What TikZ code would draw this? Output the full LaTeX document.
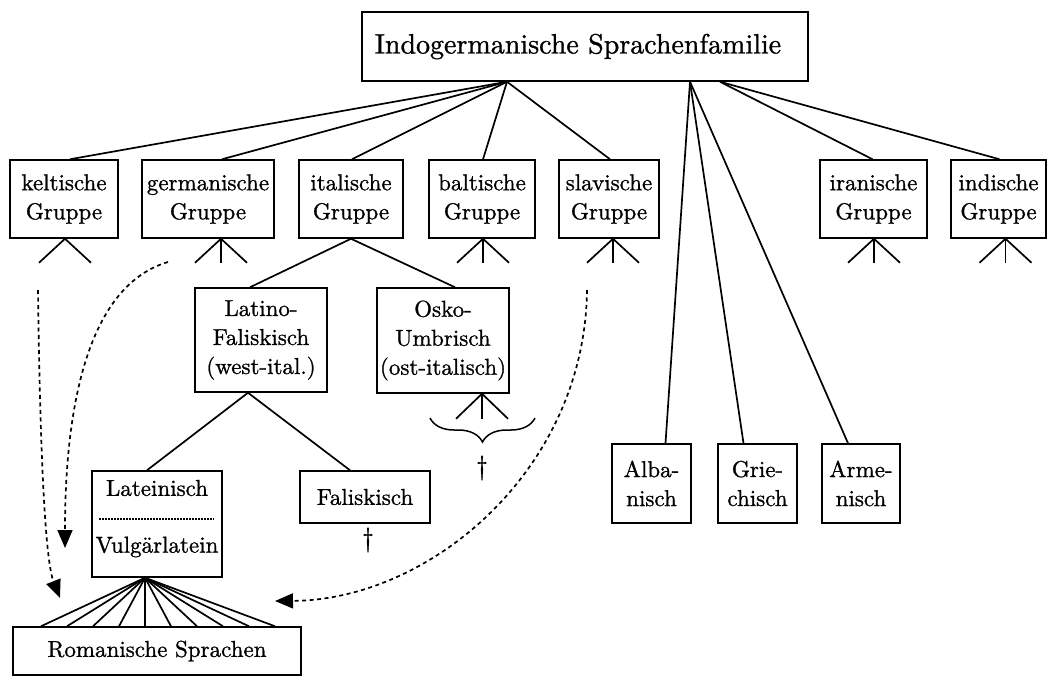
\documentclass[tikz,border=0pt]{standalone}
\usepackage{fontspec}
\setmainfont{lmroman10-regular.otf}[FakeBold=1.0]
\usetikzlibrary{arrows.meta,calc,decorations.pathreplacing}
\newcommand\grpfont{\fontsize{23}{29}\selectfont}
\newcommand\topfont{\fontsize{28}{34}\selectfont}
\begin{document}
\begin{tikzpicture}[x=1pt,y=-1pt,
  box/.style={draw,line width=1.5pt,inner sep=0pt,align=center,font=\grpfont},
  ln/.style={line width=1.7pt},
  dsh/.style={line width=1.7pt,dash pattern=on 4pt off 3.5pt,-{Triangle[length=18pt,width=15pt]}},
  lbl/.style={inner sep=0pt,font=\grpfont}
]
\useasboundingbox (0,0) rectangle (1048,678);

% top
\node[box,minimum width=446pt,minimum height=69pt,font=\topfont] (top) at (585,46.5) {Indogermanische Sprachenfamilie\hspace*{14pt}};

% groups
\node[box,minimum width=108pt,minimum height=78pt] (kelt) at (64,199) {keltische\\Gruppe};
\node[box,minimum width=132pt,minimum height=78pt] (germ) at (208,199) {germanische\\Gruppe};
\node[box,minimum width=104pt,minimum height=78pt] (ital) at (351,199) {italische\\Gruppe};
\node[box,minimum width=106pt,minimum height=78pt] (balt) at (482,199) {baltische\\Gruppe};
\node[box,minimum width=100pt,minimum height=78pt] (slav) at (609,199) {slavische\\Gruppe};
\node[box,minimum width=107pt,minimum height=78pt] (iran) at (873.5,199) {iranische\\Gruppe};
\node[box,minimum width=95pt,minimum height=78pt] (ind) at (998.5,199) {indische\\Gruppe};

% second level
\node[box,minimum width=132pt,minimum height=104pt] (latf) at (261,340) {Latino-\\Faliskisch\\(west-ital.)};
\node[box,minimum width=132pt,minimum height=105pt] (osk) at (443,340.5) {Osko-\\Umbrisch\\(ost-italisch)};

% third level
\node[box,minimum width=130pt,minimum height=106pt] (latein) at (157,524) {};
\node[lbl] (lat1) at (157,488) {Lateinisch};
\node[lbl] (lat2) at (157,547) {Vulgärlatein};
\draw[line width=1.2pt,dash pattern=on 2pt off 1pt] ($(latein.west)+(8,-5)$) -- ($(latein.east)+(-9,-5)$);
\node[box,minimum width=130pt,minimum height=52pt] (falis) at (365,497) {Faliskisch};

\node[box,minimum width=79pt,minimum height=79pt] (alb) at (651.5,483.5) {Alba-\\nisch};
\node[box,minimum width=79pt,minimum height=79pt] (grie) at (757.5,483.5) {Grie-\\chisch};
\node[box,minimum width=78pt,minimum height=79pt] (arm) at (861,483.5) {Arme-\\nisch};

\node[box,minimum width=288pt,minimum height=48pt,font=\fontsize{23}{28}\selectfont] (rom) at (157,651) {Romanische Sprachen};

% daggers
\node[lbl,font=\fontsize{27}{30}\selectfont] (dag1) at (482,468) {\dag};
\node[lbl,font=\fontsize{27}{30}\selectfont] (dag2) at (368,540) {\dag};

% top connections
\coordinate (tA) at ([xshift=-78pt]top.south);
\coordinate (tB) at ([xshift=105pt]top.south);
\coordinate (tC) at ([xshift=135pt]top.south);
\draw[ln] (tA) -- ([xshift=6pt]kelt.north);
\draw[ln] (tA) -- ([xshift=14pt]germ.north);
\draw[ln] (tA) -- ([xshift=1pt]ital.north);
\draw[ln] (tA) -- ([xshift=1pt]balt.north);
\draw[ln] (tA) -- ([xshift=1pt]slav.north);
\draw[ln] (tB) -- ([xshift=14pt]alb.north);
\draw[ln] (tB) -- ([xshift=-14pt]grie.north);
\draw[ln] (tB) -- ([xshift=-13pt]arm.north);
\draw[ln] (tC) -- ([xshift=-1pt]iran.north);
\draw[ln] (tC) -- ([xshift=1pt]ind.north);

% italic branch
\draw[ln] (ital.south) -- ([xshift=-11pt]latf.north);
\draw[ln] (ital.south) -- ([xshift=12pt]osk.north);
\draw[ln] ([xshift=-13pt]latf.south) -- ([xshift=-10pt]latein.north);
\draw[ln] ([xshift=-13pt]latf.south) -- ([xshift=-15pt]falis.north);

% fans under groups
\foreach \dx in {-26,26} \draw[ln] ([xshift=1pt]kelt.south) -- ++(\dx,24);
\foreach \dx in {-26,0,26} {
  \draw[ln] ([xshift=13pt]germ.south) -- ++(\dx,24);
  \draw[ln] ([xshift=1pt]balt.south) -- ++(\dx,24);
  \draw[ln] ([xshift=4pt]slav.south) -- ++(\dx,24);
  \draw[ln] ([xshift=0.5pt]iran.south) -- ++(\dx,24);
  \draw[ln] ([xshift=7pt]ind.south) -- ++(\dx,24);
  \draw[ln] ([xshift=39pt]osk.south) -- ++(\dx,25);
}
\draw[line width=1.5pt,decorate,decoration={brace,amplitude=24pt}] (535,418) -- (430,418);

% fan to Romanische Sprachen
\foreach \dx in {-116,-90,-64,-38,-12,14,40,66,92,118}
  \draw[ln] ([xshift=-12pt]latein.south) -- ([xshift=\dx pt]rom.north);

% dashed influences
\coordinate (k0) at (38,290);
\coordinate (k1) at (60,598);
\draw[dsh] (k0) .. controls (40,450) and (45,560) .. (k1);
\coordinate (g0) at (168,262);
\coordinate (g1) at (65,548);
\draw[dsh] (g0) .. controls (90,285) and (65,400) .. (g1);
\coordinate (s0) at (587,290);
\coordinate (s1) at (275,601);
\draw[dsh] (s0) .. controls (585,470) and (430,600) .. (s1);
\end{tikzpicture}
\end{document}
